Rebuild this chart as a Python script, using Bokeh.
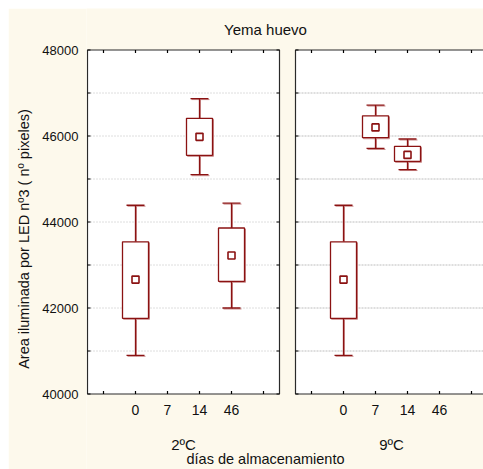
import math
from bokeh.plotting import figure
from bokeh.models import Range1d, FixedTicker
from bokeh.core.properties import value
from bokeh.embed import file_html
from bokeh.resources import INLINE

# ---------------- data ----------------
title_text = "Yema huevo"
y_title = "Area iluminada por LED nº3 ( nº pixeles)"
x_title = "días de almacenamiento"
groups = ["2ºC", "9ºC"]
days = ["0", "7", "14", "46"]
y_ticks = [40000, 42000, 44000, 46000, 48000]

# 2ºC : whisker low, Q1, median, Q3, whisker high
g2_days = ["0", "14", "46"]
g2_low = [40900, 45100, 42000]
g2_q1 = [41760, 45550, 42620]
g2_med = [42660, 45980, 43220]
g2_q3 = [43540, 46410, 43860]
g2_high = [44390, 46870, 44440]

# 9ºC
g9_days = ["0", "7", "14"]
g9_low = [40900, 45710, 45220]
g9_q1 = [41760, 45960, 45410]
g9_med = [42660, 46200, 45560]
g9_q3 = [43540, 46470, 45760]
g9_high = [44390, 46720, 45930]

# ---------------- layout ----------------
W, H = 475, 461
MB_L = 78
frame_w = W - MB_L
slot_px = 32.0
x0 = -1.0 / slot_px
ymin, ymax = y_ticks[0], y_ticks[-1]
px_per_unit = 0.043          # pixels per y unit
top_px = 41.5                # frame pixels above ymax
upx = 1.0 / px_per_unit      # y units per pixel
y_hi = ymax + top_px * upx
y_lo = y_hi - H * upx
x_range = Range1d(x0, x0 + frame_w / slot_px)
y_range = Range1d(y_lo, y_hi)

CREAM = "#FDF9EC"
RED = "#8B1212"
SHADOW = "#C98A8A"
INK = "#111111"
FRAME = "#2a2a2a"
FONT = "Liberation Sans"

p = figure(width=W, height=H, x_range=x_range, y_range=y_range,
           output_backend="svg", toolbar_location=None, tools="",
           min_border_left=MB_L, min_border_right=0,
           min_border_top=0, min_border_bottom=0,
           background_fill_color=CREAM, border_fill_color=CREAM,
           outline_line_color=None)
p.margin = (8, 0, 0, 8)
p.xgrid.visible = False
p.ygrid.visible = False
p.xaxis.visible = False

panel_w = len(days) + 2
gap = 0.5
offsets = [0.0, panel_w + gap]
panel_left = offsets
panel_right = [o + panel_w for o in offsets]

# panels (white)
p.quad(left=panel_left, right=panel_right, bottom=ymin, top=ymax,
       fill_color="white", line_color=None)

# grid lines every 1000 inside each panel (dotted left, finer dashed right)
grid_vals = list(range(ymin + 1000, ymax, 1000))
for l, r, dash in zip(panel_left, panel_right, ["1 2", "2 1"]):
    p.segment(x0=[l] * len(grid_vals), y0=grid_vals,
              x1=[r] * len(grid_vals), y1=grid_vals,
              line_color="#bdbdbd", line_width=1, line_dash=dash)

dx = 1.0 / slot_px
dy = upx
box_w = 26 / slot_px
cap_w = 18 / slot_px


def draw_group(off, dlist, lo, q1, med, q3, hi):
    xs = [off + 1.5 + days.index(d) for d in dlist]
    for shift, col, lw, is_shadow in [((dx, -dy), SHADOW, 1, True),
                                      ((0, 0), RED, 1.3, False)]:
        sx, sy = shift
        X = [x + sx for x in xs]
        LO = [v + sy for v in lo]
        Q1 = [v + sy for v in q1]
        MED = [v + sy for v in med]
        Q3 = [v + sy for v in q3]
        HI = [v + sy for v in hi]
        p.segment(x0=X, y0=LO, x1=X, y1=Q1, line_color=col, line_width=lw)
        p.segment(x0=X, y0=Q3, x1=X, y1=HI, line_color=col, line_width=lw)
        p.segment(x0=[x - cap_w / 2 for x in X], y0=LO,
                  x1=[x + cap_w / 2 for x in X], y1=LO,
                  line_color=col, line_width=lw)
        p.segment(x0=[x - cap_w / 2 for x in X], y0=HI,
                  x1=[x + cap_w / 2 for x in X], y1=HI,
                  line_color=col, line_width=lw)
        p.quad(left=[x - box_w / 2 for x in X], right=[x + box_w / 2 for x in X],
               bottom=Q1, top=Q3,
               fill_color=None if is_shadow else "white",
               line_color=col, line_width=lw)
        p.scatter(x=X, y=MED, marker="square", size=7,
                  fill_color="white", line_color=col, line_width=1.6)


draw_group(offsets[0], g2_days, g2_low, g2_q1, g2_med, g2_q3, g2_high)
draw_group(offsets[1], g9_days, g9_low, g9_q1, g9_med, g9_q3, g9_high)

# panel borders
p.quad(left=panel_left, right=panel_right, bottom=ymin, top=ymax,
       fill_color=None, line_color=FRAME, line_width=1.2)

# inward ticks on the panel borders
tick_vals = list(range(ymin, ymax + 1, 1000))
rx, ry, ra = [], [], []
for v in tick_vals:
    rx += [panel_left[0], panel_right[0], panel_left[1]]
    ry += [v, v, v]
    ra += [0.0, math.pi, 0.0]
xt = []
for off in offsets:
    xt += [off + 0.5 + i for i in range(panel_w)]
for x in xt:
    rx += [x, x]
    ry += [ymin, ymax]
    ra += [math.pi / 2, -math.pi / 2]
p.ray(x=rx, y=ry, length=3, length_units="screen", angle=ra,
      line_color="#000000", line_width=1.2)

# y axis: tick labels + title
p.yaxis.ticker = FixedTicker(ticks=y_ticks)
p.yaxis.axis_line_color = None
p.yaxis.major_tick_line_color = None
p.yaxis.minor_tick_line_color = None
p.yaxis.major_label_text_font = FONT
p.yaxis.major_label_text_font_size = "13px"
p.yaxis.major_label_text_color = INK
p.yaxis.major_label_standoff = 2
p.yaxis.axis_label = y_title
p.yaxis.axis_label_text_font = FONT
p.yaxis.axis_label_text_font_size = "14.5px"
p.yaxis.axis_label_text_font_style = "normal"
p.yaxis.axis_label_text_color = INK
p.yaxis.axis_label_standoff = 7

# x category labels (days) under each panel
cat_x, cat_lab = [], []
for off in offsets:
    for i, d in enumerate(days):
        cat_x.append(off + 1.5 + i)
        cat_lab.append(d)
p.text(x=cat_x, y=[ymin - 15.5 * upx] * len(cat_x), text=cat_lab,
       text_font=value(FONT), text_font_size=value("14px"), text_color=INK,
       text_align="center", text_baseline="middle")

# group labels
p.text(x=[o + panel_w / 2 for o in offsets], y=[ymin - 50 * upx] * len(groups),
       text=groups, text_font=value(FONT), text_font_size=value("15px"),
       text_color=INK, text_align="center", text_baseline="middle")

# titles
cx_all = (265 - 87) / slot_px
p.text(x=[cx_all], y=[ymin - 64.5 * upx], text=[x_title],
       text_font=value(FONT), text_font_size=value("14.5px"), text_color=INK,
       text_align="center", text_baseline="middle")
p.text(x=[cx_all], y=[ymax + 20.5 * upx], text=[title_text],
       text_font=value(FONT), text_font_size=value("15px"), text_color=INK,
       text_align="center", text_baseline="middle")

open("out.html", "w").write(file_html(p, INLINE))
